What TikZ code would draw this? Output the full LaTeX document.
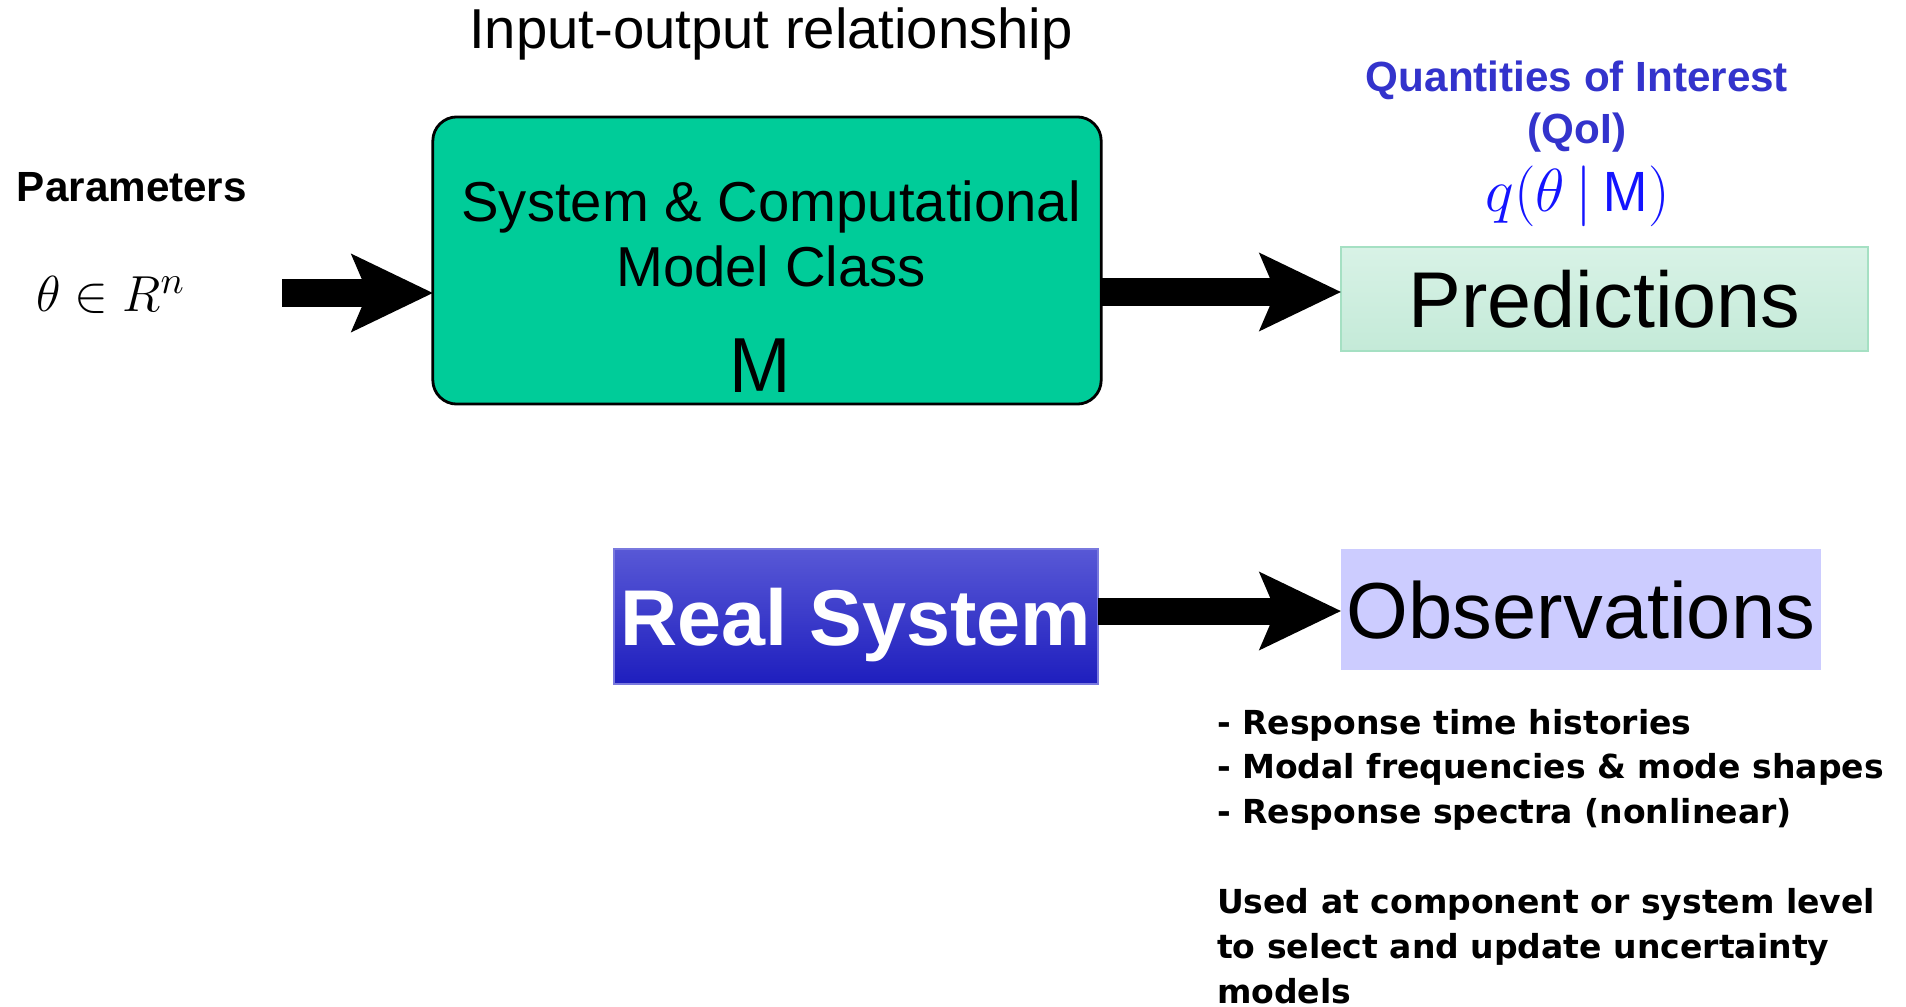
\documentclass[tikz,border=0pt]{standalone}
\usepackage{fontspec}
\newfontfamily\arialf{Liberation Sans}
\newfontfamily\bulletf{DejaVu Sans}
\usetikzlibrary{arrows.meta}
\definecolor{boxgreen}{RGB}{0,204,153}
\definecolor{predtop}{RGB}{216,242,230}
\definecolor{predbot}{RGB}{196,234,216}
\definecolor{predborder}{RGB}{165,224,195}
\definecolor{realtop}{RGB}{88,88,214}
\definecolor{realbot}{RGB}{30,30,190}
\definecolor{obsfill}{RGB}{204,204,255}
\definecolor{qoiblue}{RGB}{51,51,204}
\definecolor{qblue}{RGB}{20,20,255}
\begin{document}
\begin{tikzpicture}[x=0.01cm,y=-0.01cm,
  blockarrow/.style={line width=0.27cm,
    -{Stealth[length=0.82cm,width=0.79cm,inset=0.17cm,line width=0pt]}},
  plain/.style={inner sep=0pt,outer sep=0pt},
  boxstyle/.style={inner sep=0pt,outer sep=0pt,text depth=0pt}]
\fill[white] (0,0) rectangle (1906,1006);
\useasboundingbox (0,0) rectangle (1906,1006);

% title
\node[plain,font=\arialf\fontsize{16}{19}\selectfont] (title) at (771,34) {Input-output relationship};

% parameters
\node[plain,anchor=west,font=\arialf\bfseries\fontsize{12}{14}\selectfont] (params) at (17,187) {Parameters};
\node[plain,anchor=west,font=\fontsize{15.5}{19}\selectfont] (theta) at (36,295) {$\theta\in R^{n}$};

% model box
\node[boxstyle,draw=black,line width=0.8pt,fill=boxgreen,rounded corners=0.24cm,
      minimum width=6.68cm,minimum height=2.87cm] (sys) at (767,260.5) {};
\node[plain,align=center,font=\arialf\fontsize{16}{19}\selectfont] (systext) at (771,234) {System \& Computational\\[-0.5pt]Model Class};
\node[plain,font=\fontsize{22}{26}\selectfont] (mlabel) at (760,366) {$\mathsf{M}$};

% predictions
\node[plain,align=center,text=qoiblue,font=\arialf\bfseries\fontsize{12}{14.8}\selectfont] (qoi) at (1577,107) {Quantities of Interest\\(QoI)};
\node[plain,text=qblue,font=\fontsize{16}{19}\selectfont] (qfun) at (1578,196) {$q(\theta\,|\,\mathsf{M})$};
\node[boxstyle,draw=predborder,line width=0.6pt,top color=predtop,bottom color=predbot,
      minimum width=5.27cm,minimum height=1.04cm,font=\arialf\fontsize{22.5}{26}\selectfont] (pred) at (1604.5,299) {Predictions};

% real system
\node[boxstyle,top color=realtop,bottom color=realbot,draw=realtop!80!white,line width=0.4pt,
      minimum width=4.84cm,minimum height=1.35cm,text=white,
      font=\arialf\bfseries\fontsize{22.5}{26}\selectfont] (real) at (856,616.5) {Real System};

% observations
\node[boxstyle,fill=obsfill,minimum width=4.80cm,minimum height=1.21cm,
      font=\arialf\fontsize{22.6}{26}\selectfont] (obs) at (1581,609.5) {Observations};

% notes
\node[plain,anchor=north west,align=left,font=\bulletf\bfseries\fontsize{9.4}{12.75}\selectfont] (notes) at (1217,709)
 {- Response time histories\\
  - Modal frequencies \& mode shapes\\
  - Response spectra (nonlinear)\\[12.75pt]
  Used at component or system level\\
  to select and update uncertainty\\
  models};

% arrows
\coordinate (pin) at (282,293);
\coordinate (topy) at (0,292);
\coordinate (boty) at (0,611);
\draw[blockarrow] (pin) -- (pin -| sys.west);
\draw[blockarrow] (sys.east |- topy) -- (pred.west |- topy);
\draw[blockarrow] (real.east |- boty) -- (obs.west |- boty);
\end{tikzpicture}
\end{document}
